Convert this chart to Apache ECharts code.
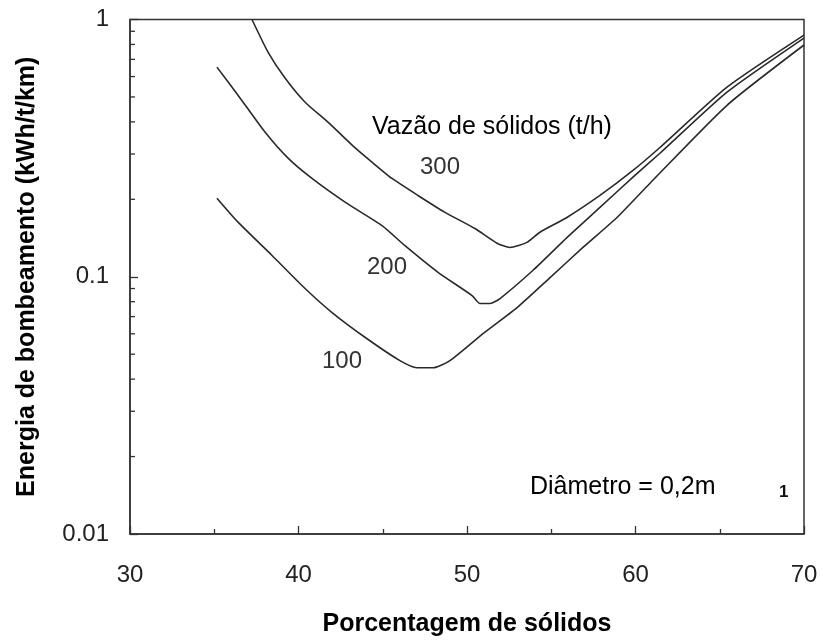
<!DOCTYPE html>
<html>
<head>
<meta charset="utf-8">
<script src="https://cdn.jsdelivr.net/npm/echarts@6/dist/echarts.min.js"></script>
<style>
  html, body { margin: 0; padding: 0; background: #fff; }
  #chart { width: 823px; height: 644px; }
</style>
</head>
<body>
<div id="chart"></div>
<script>
// Pumping energy vs. solids concentration, one curve per solids throughput (t/h)
const solids300 = [37.24, 38.19, 39.2, 40.39, 41.75, 43.18, 44.36, 45.55, 47.09, 48.69, 50.47, 51.78, 52.55, 53.56, 54.33, 55.93, 57.89, 59.85, 61.45, 65.43, 70.0];
const energy300 = [1.0, 0.747, 0.592, 0.477, 0.399, 0.325, 0.279, 0.241, 0.207, 0.178, 0.154, 0.135, 0.130, 0.136, 0.149, 0.170, 0.207, 0.259, 0.318, 0.546, 0.87];

const solids200 = [35.16, 36.41, 38.01, 39.38, 40.8, 42.76, 44.96, 46.32, 48.28, 50.3, 50.77, 51.37, 51.96, 53.92, 55.93, 57.89, 59.85, 61.45, 65.43, 70.0];
const energy200 = [0.653, 0.508, 0.365, 0.289, 0.241, 0.195, 0.158, 0.132, 0.104, 0.0845, 0.0787, 0.0787, 0.0823, 0.106, 0.142, 0.186, 0.244, 0.302, 0.522, 0.847];

const solids100 = [35.16, 36.41, 38.43, 40.39, 41.99, 44.07, 46.02, 47.03, 47.98, 48.99, 50.95, 52.97, 54.93, 56.88, 58.9, 60.86, 65.43, 70.0];
const energy100 = [0.202, 0.163, 0.121, 0.090, 0.0726, 0.0574, 0.0472, 0.0443, 0.0443, 0.0472, 0.0601, 0.0759, 0.0993, 0.130, 0.170, 0.231, 0.464, 0.796];

const xMin = 30, xMax = 70, xStep = 10;
const yTickLabels = ['0.01', '0.1', '1'];
const yMinorTicks = [0.02, 0.03, 0.04, 0.05, 0.06, 0.07, 0.08, 0.09,
                     0.2, 0.3, 0.4, 0.5, 0.6, 0.7, 0.8, 0.9];

const pairs = (xs, ys) => xs.map((x, i) => [x, ys[i]]);

const FONT = '"Liberation Sans", Arial, sans-serif';
const INK = '#2a2a2a';

const curve = (name, xs, ys) => ({
  name, type: 'line', data: pairs(xs, ys),
  showSymbol: false, smooth: 0.2,
  lineStyle: { color: INK, width: 1.6, join: 'round' },
  emphasis: { disabled: true }, z: 3
});

const chart = echarts.init(document.getElementById('chart'), null, { renderer: 'canvas' });

chart.setOption({
  animation: false,
  backgroundColor: '#fff',
  grid: {
    left: 130, right: 19, top: 19.5, bottom: 110,
    show: true, borderColor: '#333', borderWidth: 1.5
  },
  xAxis: {
    type: 'value', min: xMin, max: xMax, interval: xStep,
    name: 'Porcentagem de sólidos', nameLocation: 'middle', nameGap: 78,
    nameTextStyle: { fontFamily: FONT, fontWeight: 'bold', fontSize: 25, color: '#000' },
    axisLine: { lineStyle: { color: '#333', width: 1.5 } },
    axisTick: { inside: true, length: 8, lineStyle: { color: '#333', width: 1.3 } },
    minorTick: { show: true, splitNumber: 2, length: 5, lineStyle: { color: '#333', width: 1.3 } },
    splitLine: { show: false },
    axisLabel: { margin: 29, fontFamily: FONT, fontSize: 24, color: '#222' }
  },
  yAxis: {
    type: 'log', logBase: 10, min: 0.01, max: 1,
    name: 'Energia de bombeamento (kWh/t/km)', nameLocation: 'middle', nameGap: 90,
    nameTextStyle: { fontFamily: FONT, fontWeight: 'bold', fontSize: 25, color: '#000' },
    axisLine: { lineStyle: { color: '#333', width: 1.5 } },
    axisTick: { inside: true, length: 8, lineStyle: { color: '#333', width: 1.3 } },
    splitLine: { show: false },
    axisLabel: {
      margin: 21, fontFamily: FONT, fontSize: 24, color: '#222',
      formatter: v => yTickLabels[Math.round(Math.log10(v)) + 2]
    }
  },
  series: [
    curve('300', solids300, energy300),
    curve('200', solids200, energy200),
    curve('100', solids100, energy100),
    {
      // logarithmic minor ticks (2..9 per decade) on the left axis
      type: 'custom', silent: true, clip: false, z: 4,
      data: yMinorTicks.map(v => [xMin, v]),
      renderItem: (params, api) => {
        const p = api.coord([api.value(0), api.value(1)]);
        return {
          type: 'line',
          shape: { x1: p[0], y1: p[1], x2: p[0] + 5, y2: p[1] },
          style: { stroke: '#333', lineWidth: 1.3 }
        };
      }
    }
  ],
  graphic: [
    { type: 'text', left: 372, top: 115, z: 10,
      style: { text: 'Vazão de sólidos (t/h)', font: '25px ' + FONT, fill: '#000' } },
    { type: 'text', left: 420, top: 155, z: 10,
      style: { text: '300', font: '24px ' + FONT, fill: '#333' } },
    { type: 'text', left: 367, top: 255, z: 10,
      style: { text: '200', font: '24px ' + FONT, fill: '#333' } },
    { type: 'text', left: 322, top: 349, z: 10,
      style: { text: '100', font: '24px ' + FONT, fill: '#333' } },
    { type: 'text', left: 530, top: 475, z: 10,
      style: { text: 'Diâmetro = 0,2m', font: '25px ' + FONT, fill: '#000' } },
    { type: 'text', left: 779, top: 484, z: 10,
      style: { text: '1', font: 'bold 17px ' + FONT, fill: '#111' } }
  ]
});
</script>
</body>
</html>
